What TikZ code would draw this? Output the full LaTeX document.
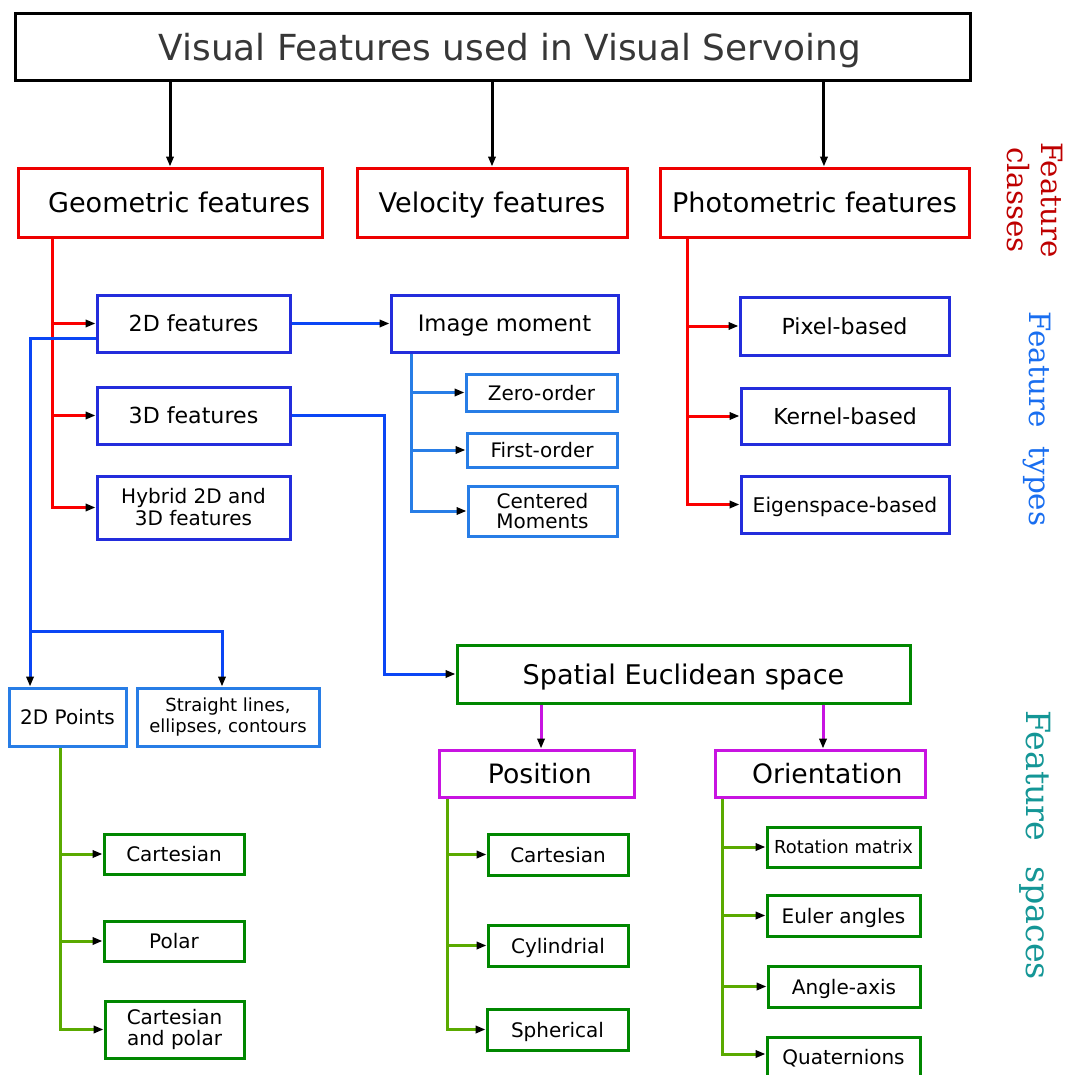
\documentclass[tikz,border=0pt]{standalone}
\usepackage{fontspec}
\setmainfont{DejaVu Sans}
\newfontfamily\labelserif{DejaVu Serif}
\usetikzlibrary{arrows.meta}

\definecolor{classred}{RGB}{190,0,0}
\definecolor{boxred}{RGB}{238,0,0}
\definecolor{linered}{RGB}{250,0,0}
\definecolor{typeblue}{RGB}{35,45,220}
\definecolor{linkblue}{RGB}{10,70,245}
\definecolor{lightblue}{RGB}{40,125,230}
\definecolor{boxgreen}{RGB}{0,135,0}
\definecolor{linegreen}{RGB}{90,170,0}
\definecolor{violetline}{RGB}{200,20,225}
\definecolor{titlegray}{RGB}{55,55,55}
\definecolor{typelabel}{RGB}{25,110,240}
\definecolor{spacelabel}{RGB}{20,150,150}

\newcommand\fs[2]{\fontsize{#1}{#2}\selectfont}
% box from its corners (in px units): style, name, x1, y1, x2, y2, text
\newcommand\boxnode[7]{\node[#1, minimum width={(#5-#3)*0.75pt}, minimum height={(#6-#4)*0.75pt}] (#2) at ({(#3+#5)/2},{(#4+#6)/2}) {#7};}

\begin{document}
\begin{tikzpicture}[x=0.75pt, y=-0.75pt,
  box/.style={draw, line width=2.25pt, inner sep=0pt, align=center},
  oneline/.style={text depth=0pt},
  titlebox/.style={box, oneline, draw=black, text=titlegray, font=\fs{26.9}{32}},
  classbox/.style={box, oneline, draw=boxred, font=\fs{20.3}{24}},
  typebox/.style={box, draw=typeblue},
  subbox/.style={box, draw=lightblue, font=\fs{15}{15}},
  spacebox/.style={box, oneline, draw=boxgreen},
  partbox/.style={box, oneline, draw=violetline, font=\fs{20}{24}},
  leafbox/.style={box, draw=boxgreen, font=\fs{15}{15.75}},
  tip/.style={-{Triangle[length=7.5pt, width=5.5pt, color=black]}},
  conn/.style={line width=2.25pt},
  blackconn/.style={conn, draw=black, tip},
  redconn/.style={conn, draw=linered},
  blueconn/.style={conn, draw=linkblue},
  subconn/.style={conn, draw=lightblue},
  violetconn/.style={conn, draw=violetline, tip},
  greenconn/.style={conn, draw=linegreen},
  sidelabel/.style={rotate=-90, align=center, inner sep=0pt}
]
\useasboundingbox (0,0) rectangle (1067,1075);

% top level
\boxnode{titlebox}{title}{15}{13}{970}{80}{\hspace{26pt}Visual Features used in Visual Servoing}

% feature classes
\boxnode{classbox}{geo}{18}{168}{322}{237}{\hspace{13.5pt}Geometric features}
\boxnode{classbox}{vel}{357}{168}{627}{237}{Velocity features}
\boxnode{classbox}{pho}{660}{168}{969}{237}{Photometric features}

% feature types
\boxnode{typebox, oneline, font=\fs{16.6}{20}}{d2}{97}{295}{290}{352}{2D features}
\boxnode{typebox, oneline, font=\fs{16.6}{20}}{d3}{97}{387}{290}{444}{3D features}
\boxnode{typebox, font=\fs{15}{16.5}}{hyb}{97}{476}{290}{539}{Hybrid 2D and\\3D features}
\boxnode{typebox, oneline, font=\fs{17}{20}}{im}{391}{295}{618}{352}{Image moment}
\boxnode{typebox, oneline, font=\fs{16.6}{20}}{pix}{740}{297}{949}{355}{Pixel-based}
\boxnode{typebox, oneline, font=\fs{16.5}{20}}{ker}{741}{388}{949}{444}{Kernel-based}
\boxnode{typebox, oneline, font=\fs{15.2}{18}}{eig}{741}{476}{949}{533}{Eigenspace-based}

% image moments
\boxnode{subbox, oneline}{zo}{466}{374}{617}{411}{Zero-order}
\boxnode{subbox, oneline}{fo}{467}{433}{617}{467}{First-order}
\boxnode{subbox}{cm}{468}{486}{617}{536}{Centered\\Moments}

% 2D primitives
\boxnode{subbox, oneline}{pts}{9}{688}{126}{746}{2D Points}
\boxnode{subbox, font=\fs{13.5}{15.75}}{sl}{137}{688}{319}{746}{Straight lines,\\ellipses, contours}

% spatial space
\boxnode{spacebox, font=\fs{20.3}{24}}{sp}{457}{645}{910}{703}{Spatial Euclidean space}
\boxnode{partbox}{pos}{439}{750}{634}{797}{\hspace{5pt}Position}
\boxnode{partbox}{ori}{715}{750}{925}{797}{\hspace{11pt}Orientation}

% feature spaces
\boxnode{leafbox, oneline}{ca}{104}{834}{244}{874}{Cartesian}
\boxnode{leafbox, oneline}{po}{104}{921}{244}{961}{Polar}
\boxnode{leafbox}{cp}{105}{1001}{244}{1058}{Cartesian\\and polar}
\boxnode{leafbox, oneline}{cb}{488}{834}{628}{875}{Cartesian}
\boxnode{leafbox, oneline}{cy}{488}{925}{628}{966}{Cylindrial}
\boxnode{leafbox, oneline}{sph}{487}{1009}{628}{1050}{Spherical}
\boxnode{leafbox, oneline, font=\fs{13.4}{16}}{rot}{767}{827}{920}{867}{Rotation matrix}
\boxnode{leafbox, oneline}{eu}{767}{895}{920}{936}{Euler angles}
\boxnode{leafbox, oneline}{aa}{768}{966}{920}{1007}{Angle-axis}
\boxnode{leafbox, oneline}{qu}{767}{1037}{920}{1077}{Quaternions}

% side labels
\node[sidelabel, text=classred, font=\labelserif\fs{22}{26}] (lcls) at (1035,200) {Feature\\classes};
\node[sidelabel, text=typelabel, font=\labelserif\fs{22}{26}] (ltyp) at (1037,419) {Feature\hspace{7.5pt} types};
\node[sidelabel, text=spacelabel, font=\labelserif\fs{25}{30}] (lspc) at (1035,845) {Feature\hspace{10.5pt} spaces};

% title to classes
\coordinate (phoin) at ([xshift=7.1pt]pho.north);
\draw[blackconn] (title.south -| geo.north) -- (geo.north);
\draw[blackconn] (title.south -| vel.north) -- (vel.north);
\draw[blackconn] (title.south -| phoin) -- (phoin);

% geometric branches
\coordinate (geox) at ([xshift=-88.5pt]geo.south);
\draw[redconn, tip] (geox) |- (hyb.west);
\draw[redconn, tip] (geox |- d2.west) -- (d2.west);
\draw[redconn, tip] (geox |- d3.west) -- (d3.west);

% photometric branches
\coordinate (phox) at ([xshift=-94.9pt]pho.south);
\draw[redconn, tip] (phox) |- (eig.west);
\draw[redconn, tip] (phox |- pix.west) -- (pix.west);
\draw[redconn, tip] (phox |- ker.west) -- (ker.west);

% 2D features
\draw[blueconn, tip] (d2.east) -- (im.west);
\coordinate (d2l) at ([yshift=-10.9pt]d2.west);
\coordinate (ptsin) at ([xshift=-28.1pt]pts.north);
\coordinate (slin) at ([xshift=-4.5pt]sl.north);
\coordinate (split) at (ptsin |- 0,631);
\draw[blueconn, tip] (d2l) -| (ptsin);
\draw[blueconn, tip] (split) -| (slin);

% image moment branches
\coordinate (imx) at ([xshift=-69.4pt]im.south);
\draw[subconn, tip] (imx) |- (cm.west);
\draw[subconn, tip] (imx |- zo.west) -- (zo.west);
\draw[subconn, tip] (imx |- fo.west) -- (fo.west);

% 3D features to spatial space
\coordinate (knee) at (384,0);
\draw[blueconn, tip] (d3.east) -| (knee |- sp.west) -- (sp.west);

% position and orientation
\coordinate (posin) at ([xshift=3.4pt]pos.north);
\coordinate (oriin) at ([xshift=2.25pt]ori.north);
\draw[violetconn] (sp.south -| posin) -- (posin);
\draw[violetconn] (sp.south -| oriin) -- (oriin);

% 2D point coordinates
\coordinate (ptsx) at ([xshift=-5.6pt]pts.south);
\draw[greenconn, tip] (ptsx) |- (cp.west);
\draw[greenconn, tip] (ptsx |- ca.west) -- (ca.west);
\draw[greenconn, tip] (ptsx |- po.west) -- (po.west);

% position coordinates
\coordinate (posx) at ([xshift=-67.1pt]pos.south);
\draw[greenconn, tip] (posx) |- (sph.west);
\draw[greenconn, tip] (posx |- cb.west) -- (cb.west);
\draw[greenconn, tip] (posx |- cy.west) -- (cy.west);

% orientation representations
\coordinate (orix) at ([xshift=-73.5pt]ori.south);
\draw[greenconn, tip] (orix) |- ([yshift=2.25pt]qu.west);
\draw[greenconn, tip] (orix |- rot.west) -- (rot.west);
\draw[greenconn, tip] (orix |- eu.west) -- (eu.west);
\draw[greenconn, tip] (orix |- aa.west) -- (aa.west);
\end{tikzpicture}
\end{document}
